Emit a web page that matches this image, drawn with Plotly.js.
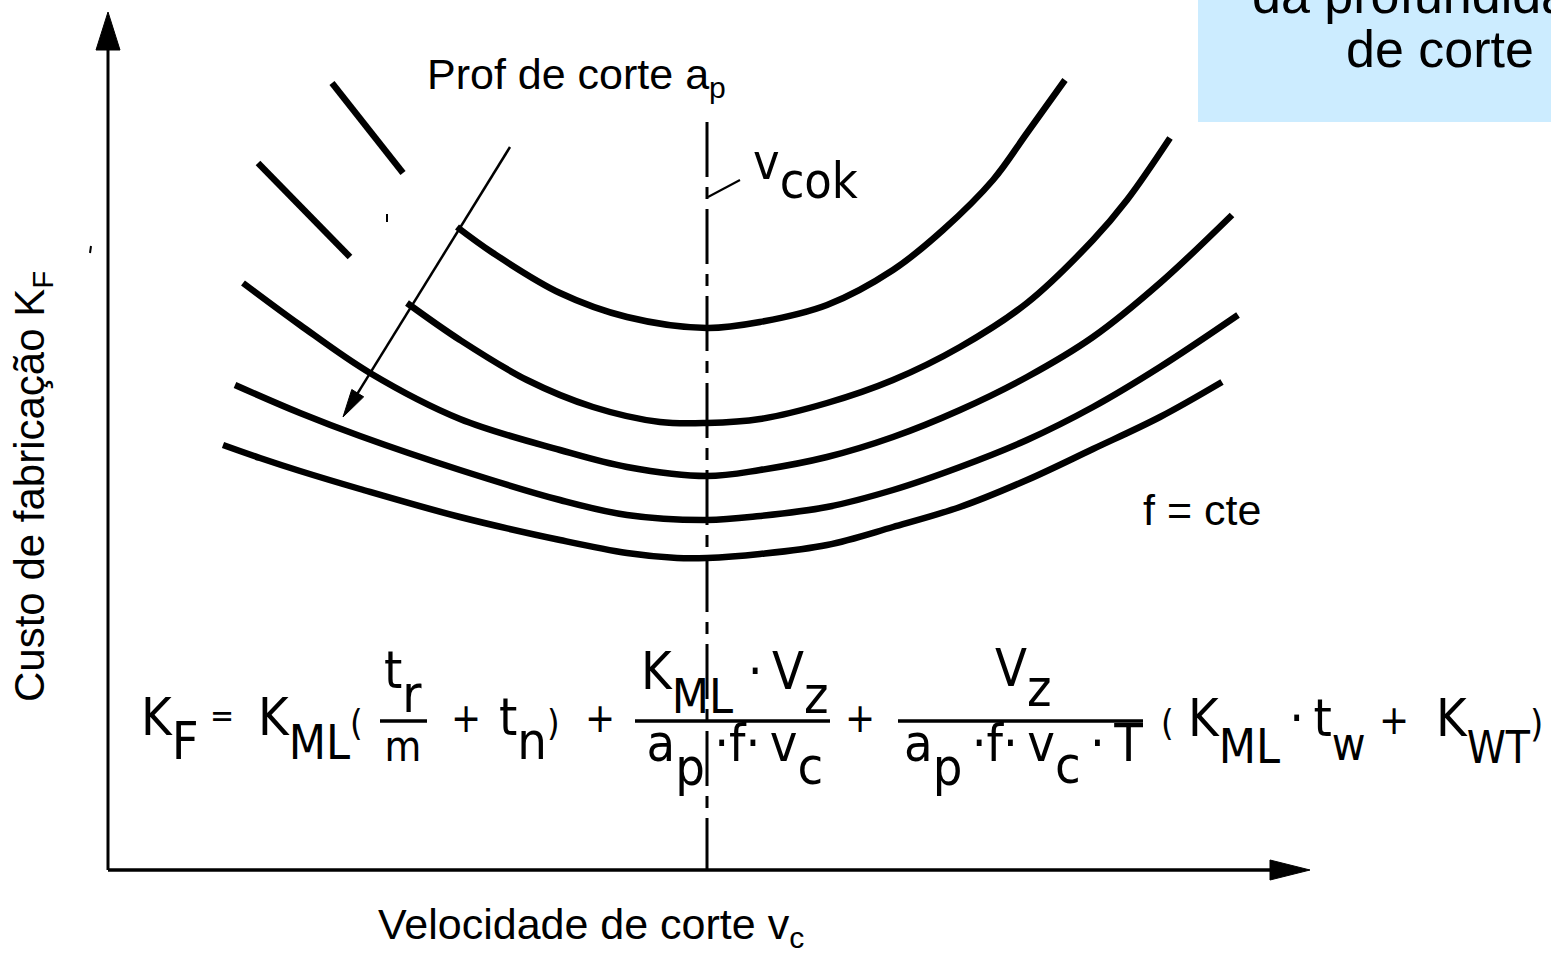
<!DOCTYPE html>
<html><head><meta charset="utf-8">
<script src="https://cdn.plot.ly/plotly-3.0.1.min.js"></script>
<style>html,body{margin:0;padding:0;background:#fff;overflow:hidden}</style>
</head><body><div id="chart" style="width:1551px;height:954px"></div>
<script>
// ---- data (units: x = cutting speed, y = manufacturing cost; origin at axes corner) ----
const vcok = 599;
const curve1X = [349,385,452,519,599,652,719,785,835,885,919,957];
const curve1Y = [643,617,577,553,542,548,565,600,640,690,737,790];
const curve2X = [299,352,419,485,552,599,652,719,785,852,919,985,1019,1062];
const curve2Y = [567,530,490,463,448,447,451,467,490,523,567,630,670,732];
const curve3X = [135,192,262,352,452,519,599,652,719,785,852,919,985,1052,1124];
const curve3Y = [587,545,497,451,420,403,394,400,413,433,460,493,533,587,655];
const curve4X = [127,192,252,352,452,519,599,652,719,785,852,919,985,1052,1130];
const curve4Y = [485,457,434,400,370,355,350,354,363,380,403,430,463,503,555];
const curve5X = [115,152,192,252,352,452,519,569,599,652,719,785,852,919,985,1052,1114];
const curve5Y = [425,412,399,381,353,330,317,312,312,316,325,343,363,390,421,453,488];
const segAX = [224,295], segAY = [787,697];
const segBX = [150,242], segBY = [707,613];
const arrowFrom = [402,723], arrowTip = [235,453];
const xMax = 1202, yMax = 858;

// ---- layout helpers ----
const W = 1551, H = 954;
const X0 = -108, Y0 = -84;
const SANS = "'Liberation Sans', Arial, sans-serif";
const COND = "'DejaVu Sans Condensed', 'Liberation Sans Narrow', 'DejaVu Sans', sans-serif";
const ASC = 0.928;
const TH = '\u2009';

function ann(text, px, py, size, family, extra) {
  return Object.assign({
    text: text, xref: 'paper', yref: 'paper', x: px / W, y: 1 - py / H,
    xanchor: 'left', yanchor: 'middle', showarrow: false, borderpad: 0,
    font: {family: family, size: size, color: '#000'}
  }, extra || {});
}
function sub(t, shift, size) {
  return `<span style="baseline-shift:-${shift}px${size ? ';font-size:' + size + 'px' : ''}">${t}</span>`;
}
function sz(t, size) { return `<span style="font-size:${size}px">${t}</span>`; }
function grp(text, px, base, size) {
  size = size || 52;
  return ann(text, px, base - ASC * size, size, COND, {yanchor: 'top'});
}
function frac(num, den, px, numBase, lineSize, anchor) {
  return ann(sz(num, 52) + '<br>' + den, px, numBase - ASC * 52, lineSize, COND,
    {yanchor: 'top', xanchor: anchor || 'left', align: 'center'});
}
function sym(text, px, cy, size) { return ann(text, px, cy, size, COND); }

function headPath(tip, from, len, hw) {
  const dx = tip[0] - from[0], dy = tip[1] - from[1], L = Math.hypot(dx, dy);
  const ux = dx / L, uy = dy / L, bx = tip[0] - ux * len, by = tip[1] - uy * len;
  const nx = -uy, ny = ux;
  return `M${tip[0]},${tip[1]} L${bx + nx * hw},${by + ny * hw} L${bx - nx * hw},${by - ny * hw} Z`;
}
function shaftEnd(tip, from, len) {
  const dx = tip[0] - from[0], dy = tip[1] - from[1], L = Math.hypot(dx, dy);
  return [tip[0] - dx / L * len * 0.8, tip[1] - dy / L * len * 0.8];
}

const curveStyle = {color: '#000', width: 6.5, shape: 'spline', smoothing: 1.0};
const curves = [[curve1X, curve1Y], [curve2X, curve2Y], [curve3X, curve3Y], [curve4X, curve4Y], [curve5X, curve5Y]];
const traces = curves.map(c => ({x: c[0], y: c[1], mode: 'lines', line: curveStyle, hoverinfo: 'skip', showlegend: false}));
[[segAX, segAY], [segBX, segBY]].forEach(s => traces.push({x: s[0], y: s[1], mode: 'lines', line: {color: '#000', width: 6.5}, hoverinfo: 'skip', showlegend: false}));

const aEnd = shaftEnd(arrowTip, arrowFrom, 28);
const hbar = (x0, x1, py) => ({type: 'line', xref: 'paper', yref: 'paper', x0: x0 / W, x1: x1 / W, y0: 1 - py / H, y1: 1 - py / H, line: {color: '#000', width: 3.5}});
const shapes = [
  {type: 'rect', xref: 'paper', yref: 'paper', x0: 1198 / W, x1: 1.02, y0: 1 - 122 / H, y1: 1.02, fillcolor: '#ccecff', line: {width: 0}, layer: 'below'},
  {type: 'line', xref: 'x', yref: 'y', x0: 0, y0: 0, x1: 0, y1: yMax - 36, line: {color: '#000', width: 3}},
  {type: 'path', xref: 'x', yref: 'y', path: headPath([0, yMax], [0, 0], 38, 12), fillcolor: '#000', line: {color: '#000', width: 1}},
  {type: 'line', xref: 'x', yref: 'y', x0: 0, y0: 0, x1: xMax - 36, y1: 0, line: {color: '#000', width: 3.5}},
  {type: 'path', xref: 'x', yref: 'y', path: headPath([xMax, 0], [0, 0], 40, 10), fillcolor: '#000', line: {color: '#000', width: 1}},
  {type: 'line', xref: 'x', yref: 'y', x0: vcok, y0: 748, x1: vcok, y1: 0, line: {color: '#000', width: 3, dash: '55px,10px,12px,10px'}},
  {type: 'line', xref: 'x', yref: 'y', x0: vcok + 1, y0: 673, x1: vcok + 33, y1: 690, line: {color: '#000', width: 2}},
  {type: 'line', xref: 'x', yref: 'y', x0: arrowFrom[0], y0: arrowFrom[1], x1: aEnd[0], y1: aEnd[1], line: {color: '#000', width: 2.5}},
  {type: 'path', xref: 'x', yref: 'y', path: headPath(arrowTip, arrowFrom, 28, 7), fillcolor: '#000', line: {color: '#000', width: 1}},
  hbar(380, 427, 721), hbar(635, 830, 721), hbar(898, 1143, 721),
  {type: 'line', xref: 'paper', yref: 'paper', x0: 387 / W, x1: 387 / W, y0: 1 - 214 / H, y1: 1 - 222 / H, line: {color: '#000', width: 2}},
  {type: 'line', xref: 'paper', yref: 'paper', x0: 91 / W, x1: 90 / W, y0: 1 - 246 / H, y1: 1 - 253 / H, line: {color: '#000', width: 2}}
];

const annotations = [
  ann('da profundidade', 1440, -5, 52, SANS, {xanchor: 'center'}),
  ann('de corte', 1440, 49, 52, SANS, {xanchor: 'center'}),
  ann('Prof de corte a<sub>p</sub>', 426, 77, 43, SANS),
  ann('Velocidade de corte v<sub>c</sub>', 377, 927, 43, SANS),
  ann('f = cte', 1142, 510, 43, SANS),
  ann('Custo de fabricação K<sub>F</sub>', 33, 487, 42, SANS, {xanchor: 'center', textangle: -90}),
  grp('v' + sub('cok', 19), 752, 178, 50),
  // formula
  grp('K' + sub('F', 24), 140, 734),
  sym('=', 209, 716, 32),
  grp('K' + sub('ML', 24, 48) + sz('(', 36), 257, 734),
  frac('t' + sub('r', 24), sz('m', 42), 383, 687, 56),
  sym('+', 450, 718, 40),
  grp('t' + sub('n', 24) + sz(')', 36), 498, 734),
  sym('+', 584, 718, 40),
  frac('K' + sub('ML', 24, 48) + ' ' + '·' + TH + 'V' + sub('z', 24),
       sz('a' + sub('p', 24) + TH + '·f·' + TH + 'v' + sub('c', 23), 52), 640, 688, 55),
  sym('+', 844, 718, 40),
  frac('V' + sub('z', 20),
       sz('a' + sub('p', 24) + TH + '·f·' + TH + 'v' + sub('c', 22) + TH + '·' + TH + 'T', 52), 903, 685, 58),
  sym('(', 1160, 722, 36),
  grp('K' + sub('ML', 27, 48) + TH + '·' + TH + 't' + sub('w', 24, 46), 1187, 735),
  sym('+', 1378, 720, 40),
  grp('K' + sub('WT', 27, 44) + sz(')', 38), 1435, 735)
];

const layout = {
  width: W, height: H, margin: {l: 0, r: 0, t: 0, b: 0},
  paper_bgcolor: '#fff', plot_bgcolor: 'rgba(0,0,0,0)', showlegend: false,
  xaxis: {range: [X0, X0 + W], visible: false, fixedrange: true},
  yaxis: {range: [Y0, Y0 + H], visible: false, fixedrange: true},
  shapes: shapes, annotations: annotations
};
Plotly.newPlot('chart', traces, layout, {displayModeBar: false, staticPlot: true});
</script></body></html>
